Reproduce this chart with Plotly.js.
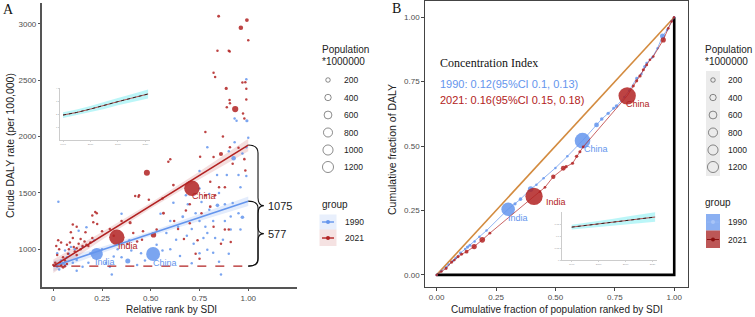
<!DOCTYPE html>
<html><head><meta charset="utf-8">
<script src="https://cdn.plot.ly/plotly-3.0.1.min.js"></script>
<style>html,body{margin:0;padding:0;background:#fff}#chart{width:755px;height:317px}</style>
</head><body><div id="chart"></div>
<script>
// ---------- Panel A: 2021 (red) ----------
const a21_x = [0.711,0.326,0.480,0.993,0.962,0.848,0.933,0.887,0.822,0.830,0.842,0.900,0.905,1.000,0.985,0.990,0.904,0.906,0.890,0.973,0.980,0.860,0.920,0.980,0.985,0.822,0.906,0.753,0.590,0.600,0.616,0.560,0.565,0.514,0.437,0.490,0.394,0.430,0.410,0.455,0.530,0.290,0.223,0.205,0.225,0.805,0.822,0.880,0.900,0.860,0.910,0.730,0.670,0.750,0.850,0.805,0.680,0.700,0.780,0.830,0.010,0.020,0.030,0.040,0.050,0.060,0.070,0.080,0.090,0.100,0.110,0.120,0.130,0.140,0.150,0.160,0.170,0.180,0.190,0.200,0.050,0.040,0.035,0.025,0.015,0.100,0.120,0.165,0.060,0.075,0.105,0.085,0.140,0.200,0.215,0.250,0.310,0.350,0.380,0.460,0.620,0.640,0.700,0.760,0.740,0.880,0.950,0.970,0.990,0.870,0.780,0.000,0.070,0.120,0.420,0.440];
const a21_y = [1541,1106,1680,3034,2966,3069,2244,2428,2566,2530,2762,2762,2755,2856,2483,2425,2324,2295,2260,2206,2160,1845,1760,1800,1700,1820,1905,1822,1777,1800,1570,1450,1319,1127,1467,1440,1236,1070,1145,1085,1175,1180,1319,1240,1225,1378,1200,1175,1175,1050,1065,960,1090,915,1550,1600,1345,1400,1480,1480,880,950,1000,1060,930,900,1040,1000,1150,1100,980,1010,1050,1000,1030,1070,1040,1030,1060,1100,840,860,880,1080,1030,1220,1200,1150,850,960,1020,1060,1090,1300,1330,1160,1120,1250,1050,1160,1250,1180,1230,1320,1080,1550,1900,2480,2330,2000,2040,860,870,950,1473,1480];
const a21_pop = [1425,1410,215,85,125,50,230,60,10,30,8,12,6,2,12,8,35,15,10,20,5,100,20,40,12,10,20,25,25,8,45,20,50,170,25,15,60,20,10,15,20,25,20,15,10,45,15,20,10,8,5,5,8,4,25,10,30,8,10,12,40,20,15,25,30,20,15,20,15,20,15,30,20,15,25,20,15,20,15,10,50,35,20,10,15,10,8,10,30,20,25,20,10,8,6,10,12,8,10,8,10,8,6,8,6,8,10,6,10,8,6,10,15,10,12,8];

// ---------- Panel A: 1990 (blue) ----------
const a90_x = [0.512,0.223,0.382,0.925,0.970,0.993,0.616,0.664,0.750,0.710,0.685,0.790,0.842,0.800,0.750,0.840,0.890,0.950,0.020,0.030,0.050,0.026,0.120,0.150,0.290,0.300,0.310,0.430,0.450,0.530,0.580,0.630,0.710,0.750,0.790,0.850,0.860,0.870,0.910,0.910,0.950,0.960,0.920,0.990,1.000,0.990,0.930,0.940,0.900,0.790,0.750,0.680,0.550,0.350,0.170,0.130,0.090,0.020,0.150,0.190,0.040,0.060,0.070,0.100,0.080,0.110,0.060,0.250,0.270,0.330,0.400,0.470,0.560,0.600,0.650,0.720,0.770,0.780,0.820,0.830,0.730,0.690,0.640,0.600,0.880,0.850,0.960,0.990,0.930,0.970,0.800,0.760,0.880,0.820,0.900,0.350,0.390,0.180,0.210,0.120];
const a90_y = [958,958,896,1807,1284,2141,1413,1289,1250,1180,1120,1145,1390,1490,1695,1660,1660,1660,845,820,876,1422,905,845,845,775,935,860,965,1040,1145,1085,876,965,995,890,775,1085,1290,1175,1320,1175,1410,1905,1990,2510,2160,2140,1870,1905,1540,1480,1315,1315,1195,1165,1020,965,1020,965,900,860,930,880,960,1000,990,1000,880,1000,990,900,990,1000,940,1050,1100,1200,1250,1100,1320,1400,1200,1250,1400,1500,1550,1650,1950,1850,1350,1420,1250,970,960,930,1080,880,1080,810];
const a90_pop = [1150,870,150,120,80,60,40,50,30,20,15,10,80,20,15,10,8,10,30,20,60,6,25,15,10,5,15,8,10,8,10,8,10,8,10,5,3,12,8,10,6,8,10,10,6,3,8,5,10,8,10,6,4,4,8,6,15,10,20,15,25,30,20,15,10,12,10,10,8,6,10,6,8,6,6,8,6,8,6,8,6,5,6,5,6,8,6,8,6,5,6,5,8,6,5,8,6,10,8,8];

// regression fits (intercept at rank 0 and gap at rank 1)
const fitIntercept = 850;
const gap2021 = 1075;
const gap1990 = 577;
const bandX = [0, 0.25, 0.5, 0.75, 1];
const band2021Half = [60, 35, 25, 35, 55];
const band1990Half = [45, 28, 20, 28, 42];

// ---------- Panel B: concentration curves ----------
const b90_x = [0,0.02,0.04,0.05,0.07,0.08,0.10,0.12,0.13,0.14,0.16,0.18,0.21,0.301,0.33,0.353,0.396,0.42,0.45,0.50,0.55,0.614,0.673,0.695,0.722,0.745,0.757,0.79,0.81,0.842,0.862,0.876,0.884,0.907,0.93,0.951,0.97,0.99,1.0];
const b90_y = [0,0.015,0.03,0.04,0.055,0.065,0.085,0.10,0.108,0.115,0.13,0.148,0.172,0.255,0.276,0.294,0.333,0.35,0.375,0.415,0.46,0.521,0.582,0.605,0.627,0.647,0.655,0.69,0.715,0.763,0.78,0.808,0.822,0.844,0.88,0.927,0.95,0.985,1.0];
const b90_pop = [5,20,25,30,20,35,40,30,50,45,25,30,20,870,50,60,150,15,10,20,15,1150,110,60,50,40,60,30,20,40,30,50,35,25,20,125,20,15,5];

const b21_x = [0,0.02,0.04,0.063,0.075,0.09,0.105,0.126,0.158,0.192,0.224,0.41,0.435,0.456,0.491,0.533,0.545,0.572,0.589,0.603,0.617,0.802,0.828,0.842,0.856,0.87,0.884,0.898,0.912,0.954,0.975,0.989,0.999];
const b21_y = [0,0.013,0.025,0.05,0.058,0.071,0.08,0.09,0.11,0.136,0.162,0.305,0.323,0.34,0.381,0.414,0.42,0.433,0.46,0.478,0.497,0.695,0.733,0.753,0.772,0.796,0.815,0.835,0.848,0.912,0.957,0.983,1.0];
const b21_pop = [5,30,40,50,30,45,40,70,130,150,40,1410,30,35,90,110,50,45,55,45,40,1425,40,45,50,45,40,35,30,125,35,25,10];

const ci1990Text = '1990: 0.12(95%CI 0.1, 0.13)';
const ci2021Text = '2021: 0.16(95%CI 0.15, 0.18)';

// ---------- insets (trend over years) ----------
const insetYears = [1990, 1995, 2000, 2005, 2010, 2015, 2021];
const insetA_val = [1.92, 2.12, 2.38, 2.64, 2.95, 3.22, 3.54];
const insetA_half = [0.22, 0.22, 0.24, 0.26, 0.28, 0.30, 0.34];
const insetB_val = [0.137, 0.143, 0.150, 0.157, 0.164, 0.171, 0.179];
const insetB_half = [0.010, 0.011, 0.012, 0.014, 0.016, 0.018, 0.020];

// ---------- legends ----------
const sizeBreaks = [200, 400, 600, 800, 1000, 1200];
const groupNames = ['1990', '2021'];

// ---------- styles ----------
const BLUE = '#6495ED', RED = '#B22222', ORANGE = '#d38b3f';
const SANS = 'Liberation Sans, Arial, sans-serif', SERIF = 'Liberation Serif, Times New Roman, serif';
const sizeA = p => Math.max(2.5, 0.41 * Math.sqrt(p));
const sizeB = p => Math.max(2.5, 0.46 * Math.sqrt(p));
const sizeLeg = p => 0.32 * Math.sqrt(p);

const fitLine = (gap) => bandX.map(x => fitIntercept + gap * x);
function bandTrace(xs, center, half, color, xa, ya) {
  const up = xs.map((x, i) => center[i] + half[i]);
  const lo = xs.map((x, i) => center[i] - half[i]);
  return {x: xs.concat(xs.slice().reverse()), y: up.concat(lo.slice().reverse()), fill: 'toself', fillcolor: color,
    line: {width: 0}, mode: 'lines', hoverinfo: 'skip', xaxis: xa, yaxis: ya, type: 'scatter'};
}

const traces = [];
// Panel A
traces.push(bandTrace(bandX, fitLine(gap1990), band1990Half, 'rgba(100,149,237,0.18)', 'x', 'y'));
traces.push(bandTrace(bandX, fitLine(gap2021), band2021Half, 'rgba(178,34,34,0.15)', 'x', 'y'));
traces.push({x: a90_x, y: a90_y, mode: 'markers', type: 'scatter', xaxis: 'x', yaxis: 'y',
  marker: {color: BLUE, opacity: 0.85, size: a90_pop.map(sizeA), line: {width: 0}}});
traces.push({x: a21_x, y: a21_y, mode: 'markers', type: 'scatter', xaxis: 'x', yaxis: 'y',
  marker: {color: RED, opacity: 0.85, size: a21_pop.map(sizeA), line: {width: 0}}});
traces.push({x: bandX, y: fitLine(gap1990), mode: 'lines', line: {color: BLUE, width: 1.6}, xaxis: 'x', yaxis: 'y', type: 'scatter'});
traces.push({x: bandX, y: fitLine(gap2021), mode: 'lines', line: {color: RED, width: 1.6}, xaxis: 'x', yaxis: 'y', type: 'scatter'});
traces.push({x: [0, 1], y: [fitIntercept, fitIntercept], mode: 'lines', line: {color: RED, width: 1.1, dash: 'dash'}, xaxis: 'x', yaxis: 'y', type: 'scatter'});

// Panel B
traces.push({x: [0, 1], y: [0, 1], mode: 'lines', line: {color: ORANGE, width: 1.6}, xaxis: 'x2', yaxis: 'y2', type: 'scatter'});
traces.push({x: [0, 1, 1], y: [0, 0, 1], mode: 'lines', line: {color: '#000', width: 2.6}, xaxis: 'x2', yaxis: 'y2', type: 'scatter'});
traces.push({x: b90_x, y: b90_y, mode: 'lines+markers', type: 'scatter', xaxis: 'x2', yaxis: 'y2',
  line: {color: BLUE, width: 0.7}, marker: {color: BLUE, opacity: 0.85, size: b90_pop.map(sizeB), line: {width: 0}}});
traces.push({x: b21_x, y: b21_y, mode: 'lines+markers', type: 'scatter', xaxis: 'x2', yaxis: 'y2',
  line: {color: RED, width: 0.7}, marker: {color: RED, opacity: 0.85, size: b21_pop.map(sizeB), line: {width: 0}}});

// insets
const CYAN = 'rgba(120,238,242,0.5)';
traces.push(bandTrace(insetYears, insetA_val, insetA_half, CYAN, 'x3', 'y3'));
traces.push({x: insetYears, y: insetA_val, mode: 'lines', line: {color: RED, width: 0.8}, xaxis: 'x3', yaxis: 'y3', type: 'scatter'});
traces.push({x: insetYears, y: insetA_val, mode: 'lines', line: {color: '#111', width: 0.8, dash: 'dot'}, xaxis: 'x3', yaxis: 'y3', type: 'scatter'});
traces.push(bandTrace(insetYears, insetB_val, insetB_half, CYAN, 'x4', 'y4'));
traces.push({x: insetYears, y: insetB_val, mode: 'lines', line: {color: RED, width: 0.8}, xaxis: 'x4', yaxis: 'y4', type: 'scatter'});
traces.push({x: insetYears, y: insetB_val, mode: 'lines', line: {color: '#111', width: 0.8, dash: 'dot'}, xaxis: 'x4', yaxis: 'y4', type: 'scatter'});

// Legends (overlay axis in pixel units)
const legA = {x0: 320, cx: 328, tx: 342};
const legB = {x0: 703, cx: 713, tx: 726};
const legCircY = [80, 97.5, 115, 132.5, 150, 167];
[legA, legB].forEach(L => {
  traces.push({x: sizeBreaks.map(() => L.cx), y: legCircY, mode: 'markers', type: 'scatter', xaxis: 'x5', yaxis: 'y5',
    marker: {symbol: 'circle-open', color: '#333', size: sizeBreaks.map(sizeLeg), line: {width: 0.8}}});
});
// group keys
const keyA_y = [222, 238];
const keyB_y = [222, 239.5];
traces.push({x: [322, 334], y: [keyA_y[0], keyA_y[0]], mode: 'lines', line: {color: BLUE, width: 1.4}, xaxis: 'x5', yaxis: 'y5', type: 'scatter'});
traces.push({x: [322, 334], y: [keyA_y[1], keyA_y[1]], mode: 'lines', line: {color: RED, width: 1.4}, xaxis: 'x5', yaxis: 'y5', type: 'scatter'});
traces.push({x: [328, 328], y: keyA_y, mode: 'markers', marker: {color: [BLUE, RED], size: 4}, xaxis: 'x5', yaxis: 'y5', type: 'scatter'});
traces.push({x: [707, 719], y: [keyB_y[0], keyB_y[0]], mode: 'lines', line: {color: 'rgba(150,185,245,0.9)', width: 1}, xaxis: 'x5', yaxis: 'y5', type: 'scatter'});
traces.push({x: [707, 719], y: [keyB_y[1], keyB_y[1]], mode: 'lines', line: {color: '#8a1010', width: 1}, xaxis: 'x5', yaxis: 'y5', type: 'scatter'});
traces.push({x: [713, 713], y: keyB_y, mode: 'markers', marker: {color: ['#a8c4f7', '#8a1010'], size: 4}, xaxis: 'x5', yaxis: 'y5', type: 'scatter'});

// braces
function brace(yb, yt, d) {
  const x0 = 1.0, xm = 1.05, xt = 1.08, ym = (yb + yt) / 2;
  return `M${x0},${yt} Q${xm},${yt} ${xm},${yt - d} L${xm},${ym + d} Q${xm},${ym} ${xt},${ym} ` +
         `Q${xm},${ym} ${xm},${ym - d} L${xm},${yb + d} Q${xm},${yb} ${x0},${yb}`;
}

const shapes = [
  {type: 'path', xref: 'x', yref: 'y', path: brace(fitIntercept, fitIntercept + gap2021, 70), line: {color: '#111', width: 1.1}},
  {type: 'path', xref: 'x', yref: 'y', path: brace(fitIntercept, fitIntercept + gap1990, 60), line: {color: '#111', width: 1.1}},
  // legend backgrounds
  {type: 'rect', xref: 'x5', yref: 'y5', x0: 706, x1: 720, y0: 71, y1: 176, fillcolor: '#ebebeb', line: {width: 0}, layer: 'below'},
  {type: 'rect', xref: 'x5', yref: 'y5', x0: 319.5, x1: 336.5, y0: 214.5, y1: 229.5, fillcolor: 'rgba(100,149,237,0.15)', line: {width: 0}, layer: 'below'},
  {type: 'rect', xref: 'x5', yref: 'y5', x0: 319.5, x1: 336.5, y0: 229.5, y1: 246, fillcolor: 'rgba(178,34,34,0.13)', line: {width: 0}, layer: 'below'},
  {type: 'rect', xref: 'x5', yref: 'y5', x0: 706, x1: 720, y0: 214, y1: 230.5, fillcolor: 'rgba(100,149,237,0.75)', line: {width: 0}, layer: 'below'},
  {type: 'rect', xref: 'x5', yref: 'y5', x0: 706, x1: 720, y0: 230.5, y1: 248, fillcolor: 'rgba(170,40,40,0.78)', line: {width: 0}, layer: 'below'},
];

const ann = [];
const P = (x, y, text, o) => Object.assign({xref: 'x5', yref: 'y5', x, y, text, showarrow: false,
  font: {family: SANS, size: 10, color: '#222'}}, o || {});
ann.push(P(8, 9, 'A', {font: {family: SERIF, size: 14, color: '#111'}}));
ann.push(P(396, 8, 'B', {font: {family: SERIF, size: 14, color: '#111'}}));
ann.push(P(10, 146, 'Crude DALY rate (per 100,000)', {textangle: -90, font: {family: SANS, size: 10.5, color: '#222'}}));
ann.push(P(171, 309, 'Relative rank by SDI', {font: {family: SANS, size: 10, color: '#222'}}));
ann.push(P(557, 309, 'Cumulative fraction of population ranked by SDI', {font: {family: SANS, size: 10, color: '#222'}}));
ann.push(P(392, 150, 'Cumulative fraction of DALY', {textangle: -90, font: {family: SANS, size: 10.5, color: '#222'}}));
// legends text
[legA, legB].forEach(L => {
  ann.push(P(L.x0, 49, 'Population', {xanchor: 'left'}));
  ann.push(P(L.x0, 61, '*1000000', {xanchor: 'left'}));
  sizeBreaks.forEach((b, i) => ann.push(P(L.tx, legCircY[i], String(b), {xanchor: 'left', font: {family: SANS, size: 8.5, color: '#222'}})));
});
ann.push(P(320, 204, 'group', {xanchor: 'left'}));
ann.push(P(703, 202, 'group', {xanchor: 'left'}));
groupNames.forEach((g, i) => {
  ann.push(P(342.5, keyA_y[i], g, {xanchor: 'left', font: {family: SANS, size: 8.5, color: '#222'}}));
  ann.push(P(726, keyB_y[i], g, {xanchor: 'left', font: {family: SANS, size: 8.5, color: '#222'}}));
});
// brace labels
const D = (xr, yr, x, y, text, o) => Object.assign({xref: xr, yref: yr, x, y, text, showarrow: false}, o || {});
ann.push(D('x', 'y', 1.09, fitIntercept + gap2021 / 2, String(gap2021), {xanchor: 'left', font: {family: SANS, size: 11, color: '#222'}}));
ann.push(D('x', 'y', 1.09, fitIntercept + gap1990 / 2, String(gap1990), {xanchor: 'left', font: {family: SANS, size: 11, color: '#222'}}));
// country labels panel A
const lf = c => ({family: SANS, size: 9, color: c});
ann.push(D('x', 'y', a21_x[0], a21_y[0], 'China', {xshift: 12, yshift: -8, font: lf(RED)}));
ann.push(D('x', 'y', a21_x[1], a21_y[1], 'India', {xshift: 11, yshift: -9, font: lf(RED)}));
ann.push(D('x', 'y', a90_x[1], a90_y[1], 'India', {xshift: 8, yshift: -8, font: lf(BLUE)}));
ann.push(D('x', 'y', a90_x[0], a90_y[0], 'China', {xshift: 12, yshift: -9, font: lf(BLUE)}));
// panel B labels
const iB90India = b90_pop.indexOf(870), iB90China = b90_pop.indexOf(1150);
const iB21India = b21_pop.indexOf(1410), iB21China = b21_pop.indexOf(1425);
ann.push(D('x2', 'y2', b21_x[iB21China], b21_y[iB21China], 'China', {xshift: 11, yshift: -8, font: lf(RED)}));
ann.push(D('x2', 'y2', b21_x[iB21India], b21_y[iB21India], 'India', {xshift: 22, yshift: -6, font: lf(RED)}));
ann.push(D('x2', 'y2', b90_x[iB90India], b90_y[iB90India], 'India', {xshift: 10, yshift: -9, font: lf(BLUE)}));
ann.push(D('x2', 'y2', b90_x[iB90China], b90_y[iB90China], 'China', {xshift: 13, yshift: -8, font: lf(BLUE)}));
// concentration index text
ann.push(D('x2', 'y2', 0.005, 0.823, 'Concentration Index', {xanchor: 'left', font: {family: SERIF, size: 12, color: '#111'}}));
ann.push(D('x2', 'y2', 0.005, 0.741, ci1990Text, {xanchor: 'left', font: {family: SANS, size: 11, color: BLUE}}));
ann.push(D('x2', 'y2', 0.005, 0.679, ci2021Text, {xanchor: 'left', font: {family: SANS, size: 11, color: RED}}));

const W = 755, H = 317;
const axBase = {showgrid: false, zeroline: false, showline: true, ticks: 'outside', ticklen: 2.5,
  tickfont: {family: SANS, size: 8, color: '#4d4d4d'}};
const inBase = {showgrid: false, zeroline: false, showline: true, linecolor: '#aaa', linewidth: 0.6,
  ticks: 'outside', ticklen: 1.5, tickcolor: '#aaa', tickwidth: 0.5, tickfont: {family: SANS, size: 2.5, color: '#999'}};

const layout = {
  width: W, height: H, margin: {l: 0, r: 0, t: 0, b: 0}, paper_bgcolor: '#fff', plot_bgcolor: 'rgba(0,0,0,0)',
  showlegend: false, hovermode: false,
  xaxis: Object.assign({}, axBase, {domain: [42 / W, 297 / W], range: [-0.058, 1.25], anchor: 'y',
    tickvals: [0, 0.25, 0.5, 0.75, 1], ticktext: ['0', '0.25', '0.50', '0.75', '1.00'],
    linecolor: '#555', linewidth: 1.6, tickcolor: '#555'}),
  yaxis: Object.assign({}, axBase, {domain: [1 - 287 / H, 1 - 3 / H], range: [665, 3186], anchor: 'x',
    tickvals: [1000, 1500, 2000, 2500, 3000], linecolor: '#555', linewidth: 1.6, tickcolor: '#555'}),
  xaxis2: Object.assign({}, axBase, {domain: [425 / W, 688 / W], range: [-0.049, 1.058], anchor: 'y2',
    tickvals: [0, 0.25, 0.5, 0.75, 1], ticktext: ['0.00', '0.25', '0.50', '0.75', '1.00'],
    linecolor: '#444', linewidth: 1.3, tickcolor: '#444', mirror: true}),
  yaxis2: Object.assign({}, axBase, {domain: [1 - 287 / H, 1 - 1 / H], range: [-0.047, 1.063], anchor: 'x2',
    tickvals: [0, 0.25, 0.5, 0.75, 1], ticktext: ['0.00', '0.25', '0.50', '0.75', '1.00'],
    linecolor: '#444', linewidth: 1.3, tickcolor: '#444', mirror: true}),
  xaxis3: Object.assign({}, inBase, {domain: [60 / W, 150 / W], range: [1988.9, 2021.7], anchor: 'y3', tickvals: [1990, 2000, 2010, 2020]}),
  yaxis3: Object.assign({}, inBase, {domain: [1 - 140 / H, 1 - 88 / H], range: [0, 4], anchor: 'x3', tickvals: [1, 2, 3, 4]}),
  xaxis4: Object.assign({}, inBase, {domain: [562 / W, 657 / W], range: [1986.4, 2021.7], anchor: 'y4', tickvals: [1990, 2000, 2010, 2020]}),
  yaxis4: Object.assign({}, inBase, {domain: [1 - 260 / H, 1 - 212 / H], range: [0, 0.2], anchor: 'x4', tickvals: [0, 0.05, 0.1, 0.15]}),
  xaxis5: {domain: [0, 1], range: [0, W], visible: false, anchor: 'y5', fixedrange: true},
  yaxis5: {domain: [0, 1], range: [H, 0], visible: false, anchor: 'x5', fixedrange: true},
  shapes: shapes, annotations: ann,
};

Plotly.newPlot('chart', traces, layout, {displayModeBar: false, staticPlot: true});
</script></body></html>
